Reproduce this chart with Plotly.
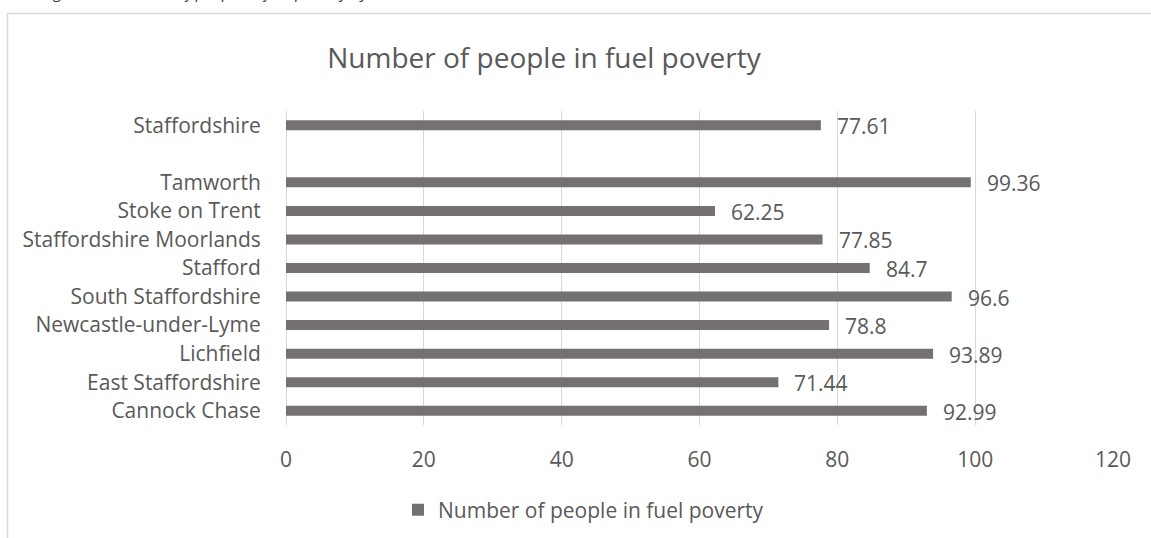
import plotly.graph_objects as go

# Districts listed bottom-to-top; the blank entry separates the county total
districts = [
    "Cannock Chase",
    "East Staffordshire",
    "Lichfield",
    "Newcastle-under-Lyme",
    "South Staffordshire",
    "Stafford",
    "Staffordshire Moorlands",
    "Stoke on Trent",
    "Tamworth",
    " ",
    "Staffordshire",
]
people_in_fuel_poverty = [92.99, 71.44, 93.89, 78.8, 96.6, 84.7, 77.85, 62.25, 99.36, None, 77.61]
x_ticks = [0, 20, 40, 60, 80, 100, 120]

series_name = "Number of people in fuel poverty"
caption = "Figure 12: Number of people in fuel poverty by district"

W, H = 1151, 538
M_L, M_R, M_T, M_B = 286, 38, 111, 113
TEXT = "#595959"
GRID = "#d9d9d9"
BAR = "#767171"
FONT = "Open Sans"


def px_to_paper_x(px):
    return (px - M_L) / (W - M_L - M_R)


def px_to_paper_y(py):
    return (H - M_B - py) / (H - M_T - M_B)


fig = go.Figure()
fig.add_trace(
    go.Bar(
        x=people_in_fuel_poverty,
        y=districts,
        orientation="h",
        name=series_name,
        marker=dict(color=BAR, line=dict(width=0)),
        hoverinfo="x+y",
    )
)

annotations = []
for name, val in zip(districts, people_in_fuel_poverty):
    if val is None:
        continue
    annotations.append(
        dict(
            x=val,
            y=name,
            xref="x",
            yref="y",
            text=f"{val:g}",
            showarrow=False,
            xanchor="left",
            yanchor="middle",
            xshift=14,
            yshift=-1,
            font=dict(family=FONT, size=21, color=TEXT),
        )
    )

# Caption line above the chart frame (only its lower part falls in view)
annotations.append(
    dict(
        x=px_to_paper_x(40),
        y=px_to_paper_y(0),
        xref="paper",
        yref="paper",
        text=f"<i>{caption}</i>",
        showarrow=False,
        xanchor="left",
        yanchor="bottom",
        yshift=-5,
        font=dict(family=FONT, size=16, color="#404040"),
    )
)

fig.update_layout(
    width=W,
    height=H,
    margin=dict(l=M_L, r=M_R, t=M_T, b=M_B, pad=0),
    paper_bgcolor="white",
    plot_bgcolor="white",
    bargap=0.65,
    font=dict(family=FONT, size=21, color=TEXT),
    title=dict(
        text=series_name,
        x=544 / W,
        xref="container",
        xanchor="center",
        y=1 - 58 / H,
        yref="container",
        yanchor="middle",
        font=dict(family=FONT, size=28, color=TEXT),
    ),
    showlegend=True,
    legend=dict(
        orientation="h",
        x=398 / W,
        xref="container",
        xanchor="left",
        y=1 - 510 / H,
        yref="container",
        yanchor="middle",
        font=dict(family=FONT, size=21, color=TEXT),
        bgcolor="rgba(0,0,0,0)",
    ),
    xaxis=dict(
        range=[0, 120],
        tickvals=x_ticks,
        showgrid=True,
        gridcolor=GRID,
        gridwidth=1,
        zeroline=True,
        zerolinecolor=GRID,
        zerolinewidth=1,
        showline=False,
        ticks="outside",
        ticklen=16,
        tickcolor="rgba(0,0,0,0)",
        tickfont=dict(family=FONT, size=21, color=TEXT),
        fixedrange=True,
    ),
    yaxis=dict(
        categoryorder="array",
        categoryarray=districts,
        range=[-0.5, len(districts) - 0.5],
        showgrid=False,
        zeroline=False,
        showline=False,
        ticks="outside",
        ticklen=20,
        tickcolor="rgba(0,0,0,0)",
        tickfont=dict(family=FONT, size=21, color=TEXT),
        fixedrange=True,
    ),
    annotations=annotations,
    shapes=[
        # chart frame, open to the right and bottom edges of the view
        dict(
            type="path",
            xref="paper",
            yref="paper",
            path=(
                f"M {px_to_paper_x(7.5)},{px_to_paper_y(H + 5)} "
                f"L {px_to_paper_x(7.5)},{px_to_paper_y(13.5)} "
                f"L {px_to_paper_x(W + 5)},{px_to_paper_y(13.5)}"
            ),
            line=dict(color=GRID, width=1.5),
            layer="below",
        )
    ],
)

fig.write_html("out.html")
